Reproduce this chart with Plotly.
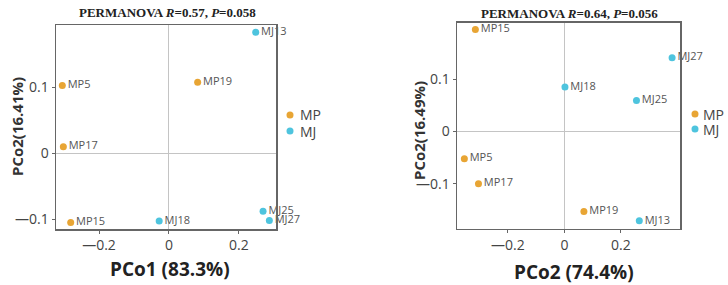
import plotly.graph_objects as go

# ---- data: left panel ----
left_labels = ["MP5", "MP19", "MP17", "MP15", "MJ13", "MJ18", "MJ25", "MJ27"]
left_group = ["MP", "MP", "MP", "MP", "MJ", "MJ", "MJ", "MJ"]
left_x = [-0.305, 0.082, -0.302, -0.281, 0.248, -0.028, 0.269, 0.287]
left_y = [0.103, 0.108, 0.010, -0.105, 0.184, -0.103, -0.088, -0.102]

# ---- data: right panel ----
right_labels = ["MP15", "MP5", "MP17", "MP19", "MJ27", "MJ18", "MJ25", "MJ13"]
right_group = ["MP", "MP", "MP", "MP", "MJ", "MJ", "MJ", "MJ"]
right_x = [-0.315, -0.354, -0.304, 0.069, 0.381, 0.002, 0.255, 0.265]
right_y = [0.195, -0.052, -0.100, -0.153, 0.141, 0.085, 0.059, -0.171]

groups = ["MP", "MJ"]
colors = {"MP": "#E8A534", "MJ": "#4EC4DE"}

tick_vals = [-0.2, 0, 0.2]
tick_text = ["\u20140.2", "0", "0.2"]
ytick_vals = [-0.1, 0, 0.1]
ytick_text = ["\u20140.1", "0", "0.1"]

titles = ["PERMANOVA <i>R</i>=0.57, <i>P</i>=0.058",
          "PERMANOVA <i>R</i>=0.64, <i>P</i>=0.056"]
xtitles = ["PCo1 (83.3%)", "PCo2 (74.4%)"]
ytitles = ["PCo2(16.41%)", "PCo2(16.49%)"]

W, H = 728, 285
fig = go.Figure()

panels = [
    (left_labels, left_group, left_x, left_y, "x", "y"),
    (right_labels, right_group, right_x, right_y, "x2", "y2"),
]
for labels, grp, xs, ys, xa, ya in panels:
    for g in groups:
        idx = [i for i, v in enumerate(grp) if v == g]
        fig.add_trace(go.Scatter(
            x=[xs[i] for i in idx], y=[ys[i] for i in idx],
            text=[labels[i] for i in idx],
            mode="markers+text", textposition="middle right",
            textfont=dict(size=11, color="#555555", family="Open Sans"),
            marker=dict(size=7, color=colors[g]),
            name=g, xaxis=xa, yaxis=ya, cliponaxis=False, showlegend=False,
            hoverinfo="skip",
        ))

axis_common = dict(showgrid=False, zeroline=True, zerolinecolor="#c4c4c4", zerolinewidth=1,
                   showline=True, mirror=True, linecolor="#666666", linewidth=1.5,
                   ticks="outside", ticklen=3, tickcolor="#666666", automargin=False,
                   tickfont=dict(size=14, color="#444444", family="Open Sans"))

fig.update_layout(
    width=W, height=H, margin=dict(l=0, r=0, t=0, b=0, autoexpand=False),
    paper_bgcolor="white", plot_bgcolor="white", showlegend=False,
    xaxis=dict(domain=[56 / W, 276 / W], range=[-0.323, 0.306],
               tickvals=tick_vals, ticktext=tick_text, anchor="y", **axis_common),
    yaxis=dict(domain=[1 - 229 / H, 1 - 25 / H], range=[-0.115, 0.195],
               tickvals=ytick_vals, ticktext=ytick_text, anchor="x", **axis_common),
    xaxis2=dict(domain=[457 / W, 680 / W], range=[-0.380, 0.409],
                tickvals=tick_vals, ticktext=tick_text, anchor="y2", **axis_common),
    yaxis2=dict(domain=[1 - 228.7 / H, 1 - 22.7 / H], range=[-0.186, 0.208],
                tickvals=ytick_vals, ticktext=ytick_text, anchor="x2", **axis_common),
)

annots = []
shapes = []
# titles
for txt, cx, cy in zip(titles, [167, 569], [12, 13]):
    annots.append(dict(text="<b>" + txt + "</b>", x=cx / W, y=1 - cy / H, xref="paper", yref="paper",
                       showarrow=False, xanchor="center", yanchor="middle",
                       font=dict(size=13, family="Liberation Serif", color="#222222")))
# x titles
for txt, cx, cy in zip(xtitles, [170, 574], [269, 272]):
    annots.append(dict(text="<b>" + txt + "</b>", x=cx / W, y=1 - cy / H, xref="paper", yref="paper",
                       showarrow=False, xanchor="center", yanchor="middle",
                       font=dict(size=19, family="Open Sans", color="#222222")))
# y titles
for txt, cx, cy in zip(ytitles, [17, 419], [127, 130]):
    annots.append(dict(text="<b>" + txt + "</b>", x=cx / W, y=1 - cy / H, xref="paper", yref="paper",
                       showarrow=False, xanchor="center", yanchor="middle", textangle=-90,
                       font=dict(size=15, family="Open Sans", color="#333333")))
# legends (marker dot + label) for each panel
legend_pos = [(290, 298, [115, 131]), (695, 701, [114, 129])]
for mx, tx, ys in legend_pos:
    for g, yy in zip(groups, ys):
        shapes.append(dict(type="circle", xref="paper", yref="paper",
                           x0=(mx - 3.5) / W, x1=(mx + 3.5) / W,
                           y0=1 - (yy + 3.5) / H, y1=1 - (yy - 3.5) / H,
                           fillcolor=colors[g], line=dict(width=0)))
        annots.append(dict(text=g, x=tx / W, y=1 - yy / H, xref="paper", yref="paper",
                           showarrow=False, xanchor="left", yanchor="middle",
                           font=dict(size=14, family="Open Sans", color="#444444")))
fig.update_layout(annotations=annots, shapes=shapes)

fig.write_html("out.html", config={"displayModeBar": False, "staticPlot": True},
               post_script="document.body.style.margin='0';document.body.style.overflow='hidden';")
